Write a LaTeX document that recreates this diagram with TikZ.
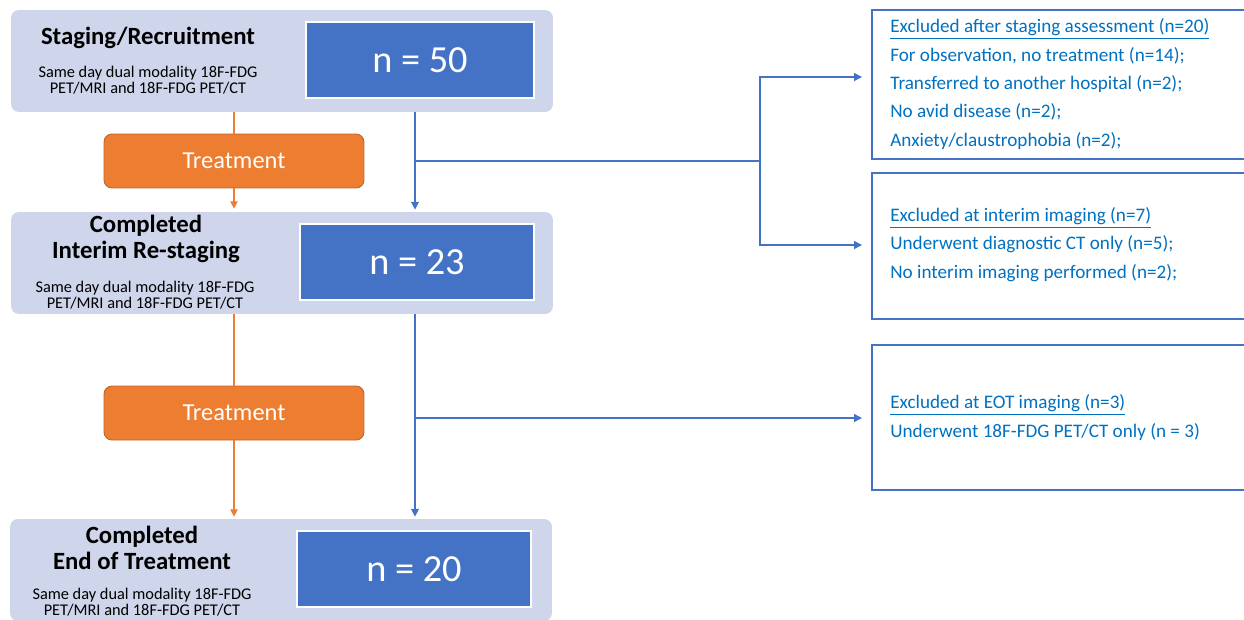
\documentclass[tikz,border=0pt]{standalone}
\usepackage{fontspec}
\setmainfont{Carlito}
\usetikzlibrary{arrows.meta,calc}
\definecolor{stageFill}{HTML}{CFD5EA}
\definecolor{countFill}{HTML}{4472C4}
\definecolor{treatFill}{HTML}{ED7D31}
\definecolor{treatEdge}{HTML}{B8642A}
\definecolor{noteText}{HTML}{0070C0}
\begin{document}
\begin{tikzpicture}[x=0.02cm,y=-0.02cm,
  stagebox/.style={fill=stageFill, rounded corners=4.5pt, minimum width=10.84cm, minimum height=2.04cm, inner sep=0pt},
  countbox/.style={fill=countFill, draw=white, line width=0.8pt, minimum height=1.52cm, inner sep=0pt,
    text=white, font=\fontsize{21.8}{24}\selectfont},
  treatbox/.style={fill=treatFill, draw=treatEdge, line width=0.5pt, rounded corners=4.5pt,
    minimum width=5.2cm, minimum height=1.08cm, inner sep=0pt, text=white, font=\fontsize{13.9}{15}\selectfont},
  notebox/.style={draw=countFill, line width=1pt, minimum width=7.76cm, inner sep=0pt},
  title/.style={font=\bfseries\fontsize{14.1}{14.9}\selectfont, align=center},
  subtitle/.style={font=\fontsize{9.3}{9.2}\selectfont, align=center},
  notetext/.style={anchor=west, align=left, text=noteText, inner sep=0pt,
    font=\fontsize{10.9}{16.2}\selectfont},
  oline/.style={draw=treatFill, line width=0.6pt},
  oarrow/.style={oline, -{Triangle[length=4.2pt,width=4.2pt]}},
  bline/.style={draw=countFill, line width=0.7pt},
  barrow/.style={bline, -{Triangle[length=4.5pt,width=4.5pt]}}
]
\useasboundingbox (0,0) rectangle (1244,619);
\clip (0,0) rectangle (1244,619);

% stage panels
\node[stagebox] (box1) at (282,61) {};
\node[stagebox] (box2) at (282,263) {};
\node[stagebox] (box3) at (281,570) {};

% patient counts
\node[countbox, minimum width=4.56cm] (n50) at (420,60) {n = 50};
\node[countbox, minimum width=4.68cm] (n23) at (417,262) {n = 23};
\node[countbox, minimum width=4.68cm] (n20) at (414,569) {n = 20};

% stage titles and imaging protocol
\node[title] (t1) at (148,38) {Staging/Recruitment};
\node[subtitle] (s1) at (148,80.5) {Same day dual modality 18F-FDG\\PET/MRI and 18F-FDG PET/CT};
\node[title] (t2) at (146,239) {Completed\\Interim Re-staging};
\node[subtitle] (s2) at (145,295) {Same day dual modality 18F-FDG\\PET/MRI and 18F-FDG PET/CT};
\node[title] (t3) at (142,547.5) {Completed\\End of Treatment};
\node[subtitle] (s3) at (142,602) {Same day dual modality 18F-FDG\\PET/MRI and 18F-FDG PET/CT};

% treatment steps
\node[treatbox] (tr1) at (234,161) {Treatment};
\node[treatbox] (tr2) at (234,413) {Treatment};

% exclusion notes
\node[notebox, minimum height=2.98cm] (exA) at (1066,84.5) {};
\node[notebox, minimum height=2.92cm] (exB) at (1066,246) {};
\node[notebox, minimum height=2.90cm] (exC) at (1066,417.5) {};

\node[notetext] (txA) at (890,84) {\underline{Excluded after staging assessment (n=20)}\\
  For observation, no treatment (n=14);\\
  Transferred to another hospital (n=2);\\
  No avid disease (n=2);\\
  Anxiety/claustrophobia (n=2);};
\node[notetext] (txB) at (890,244.5) {\underline{Excluded at interim imaging (n=7)}\\
  Underwent diagnostic CT only (n=5);\\
  No interim imaging performed (n=2);};
\node[notetext] (txC) at (890,417.5) {\underline{Excluded at EOT imaging (n=3)}\\
  Underwent 18F-FDG PET/CT only (n = 3)};

% treatment flow
\draw[oline] (box1.south -| tr1) -- (tr1.north);
\draw[oarrow] (tr1.south) -- ($(box2.north -| tr1)+(0,-3)$);
\draw[oline] (box2.south -| tr2) -- (tr2.north);
\draw[oarrow] (tr2.south) -- ($(box3.north -| tr2)+(0,-2)$);

% patient flow and exclusions
\coordinate (bx) at (415,0);
\coordinate (j1) at (415,161);
\coordinate (k1) at (760,161);
\coordinate (aA) at (862,77);
\coordinate (aB) at (862,245);
\coordinate (aC) at (862,418);
\draw[barrow] (box1.south -| bx) -- ($(box2.north -| bx)+(0,-2)$);
\draw[bline] (j1) -- (k1);
\draw[barrow] (k1) |- (aA);
\draw[barrow] (k1) |- (aB);
\draw[barrow] (box2.south -| bx) -- ($(box3.north -| bx)+(0,-2)$);
\draw[barrow] (bx |- aC) -- (aC);
\end{tikzpicture}
\end{document}
